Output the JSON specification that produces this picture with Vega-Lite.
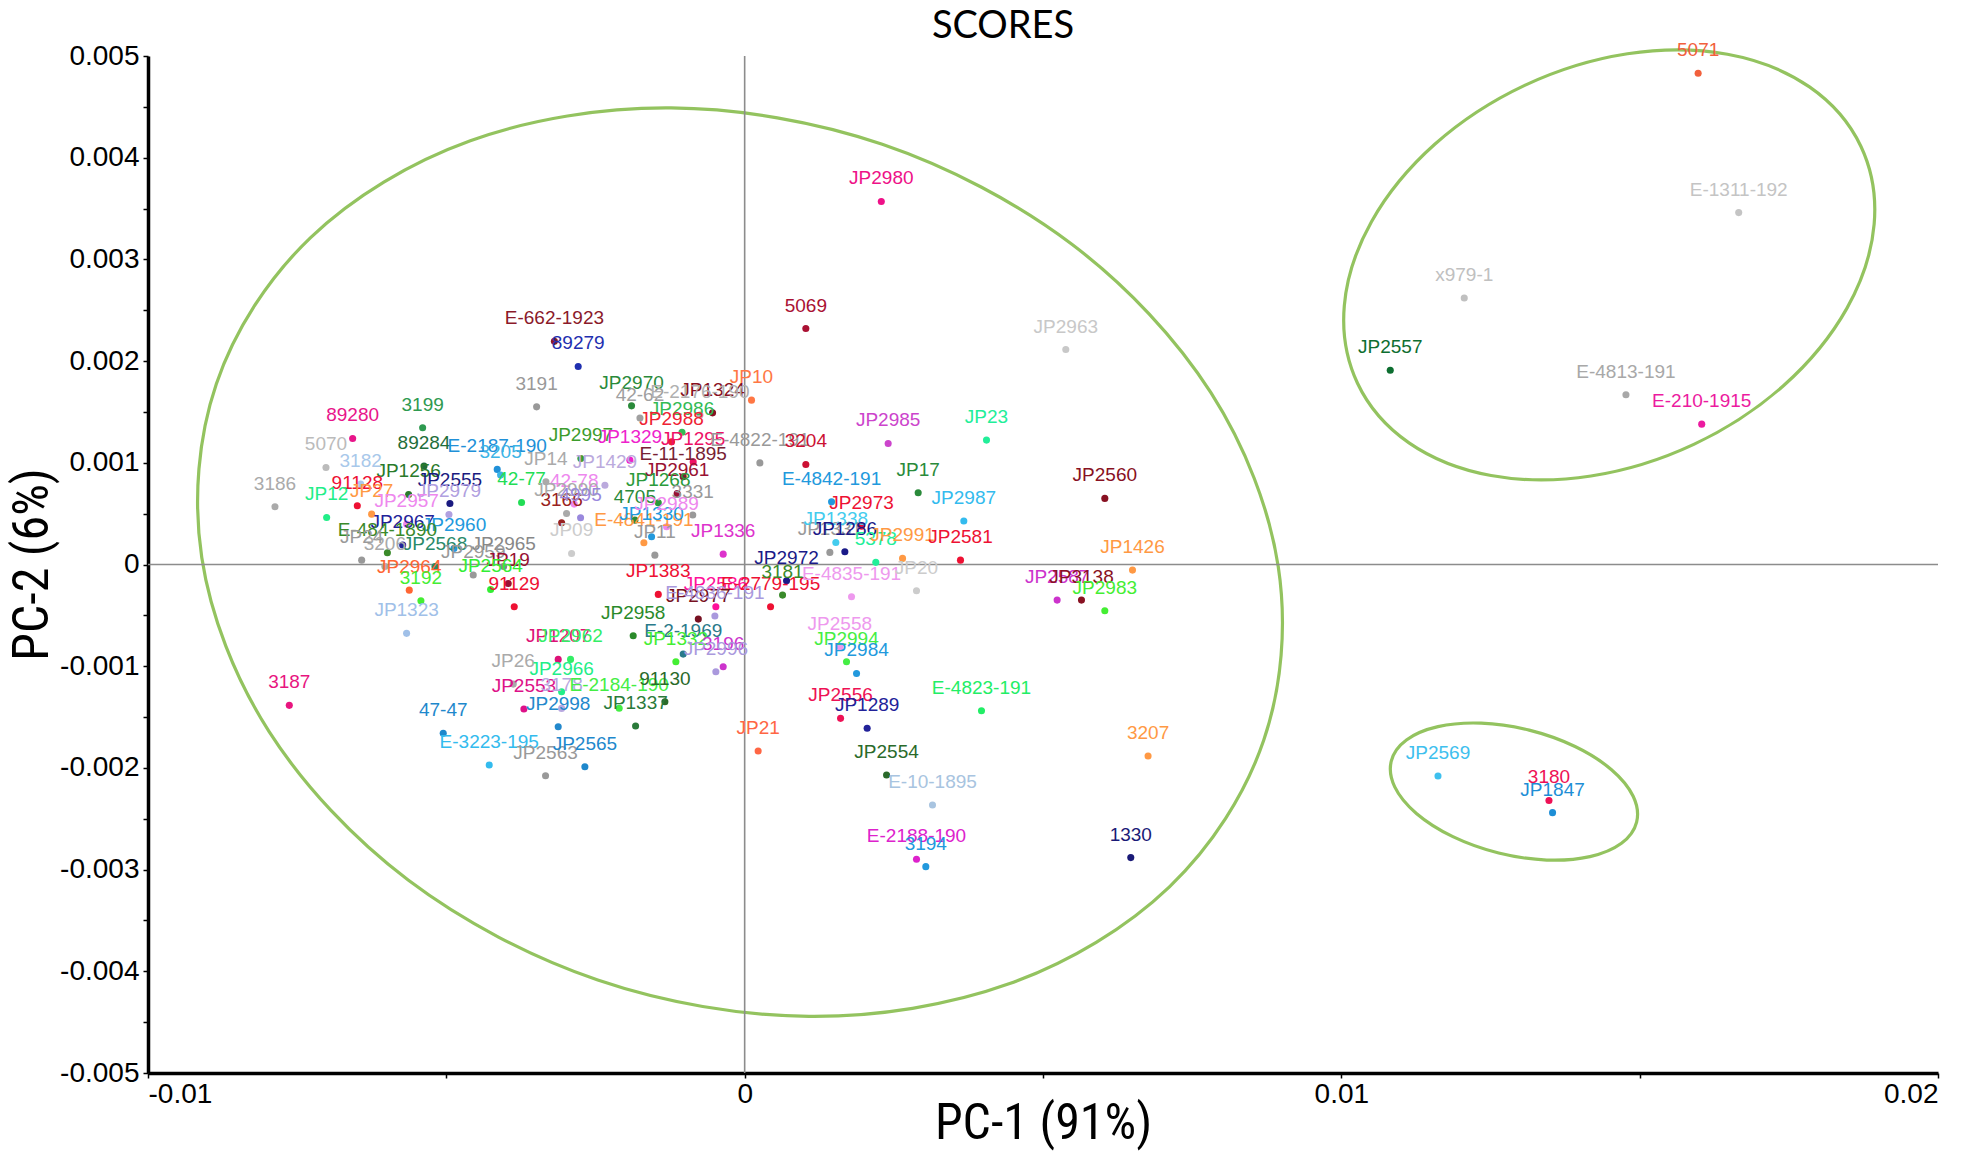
{
  "$schema": "https://vega.github.io/schema/vega-lite/v6.json",
  "width": 1790,
  "height": 1017,
  "autosize": {"type": "none"},
  "padding": {"left": 148, "top": 56, "right": 29, "bottom": 78},
  "background": "white",
  "title": {"text": "SCORES", "font": "Lato", "fontSize": 38, "fontWeight": "normal", "color": "#000000", "anchor": "middle", "dx": -40, "offset": -5},
  "datasets": {
    "pts": [
      {"n":"5071","x":0.01598,"y":0.00483},
      {"n":"E-1311-192","x":0.01666,"y":0.00346},
      {"n":"x979-1","x":0.01206,"y":0.00262},
      {"n":"JP2557","x":0.01082,"y":0.00191},
      {"n":"E-4813-191","x":0.01477,"y":0.00167},
      {"n":"E-210-1915","x":0.01604,"y":0.00138},
      {"n":"JP2569","x":0.01162,"y":-0.00208},
      {"n":"3180","x":0.01348,"y":-0.00232},
      {"n":"JP1847","x":0.01354,"y":-0.00244},
      {"n":"JP2980","x":0.00229,"y":0.00357},
      {"n":"5069","x":0.001025,"y":0.00232},
      {"n":"JP2963","x":0.005382,"y":0.002114},
      {"n":"E-662-1923","x":-0.003189,"y":0.002194},
      {"n":"89279","x":-0.00279,"y":0.001947},
      {"n":"3191","x":-0.003487,"y":0.00155},
      {"n":"JP2970","x":-0.001896,"y":0.00156},
      {"n":"JP10","x":0.000115,"y":0.001616},
      {"n":"JP1324","x":-0.000538,"y":0.001491},
      {"n":"42-62","x":-0.001755,"y":0.00144},
      {"n":"E-2176-190","x":-0.00075,"y":0.00147},
      {"n":"JP2986","x":-0.00105,"y":0.0013},
      {"n":"JP2988","x":-0.001225,"y":0.001206},
      {"n":"3199","x":-0.005397,"y":0.001344},
      {"n":"89280","x":-0.00657,"y":0.001239},
      {"n":"89284","x":-0.005374,"y":0.000969},
      {"n":"E-2187-190","x":-0.004147,"y":0.000935},
      {"n":"3205","x":-0.004091,"y":0.000879},
      {"n":"5070","x":-0.007017,"y":0.000954},
      {"n":"JP1256","x":-0.005632,"y":0.000689},
      {"n":"JP2997","x":-0.002745,"y":0.001043},
      {"n":"JP1329","x":-0.001924,"y":0.001026},
      {"n":"JP1295","x":-0.000863,"y":0.001009},
      {"n":"E-11-1895","x":-0.00103,"y":0.000862},
      {"n":"JP1429","x":-0.002342,"y":0.00078},
      {"n":"JP2961","x":-0.001131,"y":0.000699},
      {"n":"3182","x":-0.006436,"y":0.00079},
      {"n":"JP2555","x":-0.00494,"y":0.0006},
      {"n":"JP14","x":-0.003331,"y":0.000813},
      {"n":"91128","x":-0.006492,"y":0.000577},
      {"n":"JP27","x":-0.006252,"y":0.000495},
      {"n":"JP2979","x":-0.004956,"y":0.000492},
      {"n":"42-77","x":-0.003739,"y":0.00061},
      {"n":"42-78","x":-0.002857,"y":0.000594},
      {"n":"3166","x":-0.003068,"y":0.00041},
      {"n":"JP2990","x":-0.002985,"y":0.000502},
      {"n":"4995","x":-0.00275,"y":0.000459},
      {"n":"4705","x":-0.00184,"y":0.000436},
      {"n":"JP1268","x":-0.001448,"y":0.000606},
      {"n":"3331","x":-0.00087,"y":0.000486},
      {"n":"3186","x":-0.007872,"y":0.000567},
      {"n":"JP12","x":-0.007006,"y":0.000463},
      {"n":"JP2957","x":-0.005665,"y":0.000397},
      {"n":"E-4841-191","x":-0.001689,"y":0.000213},
      {"n":"JP1330","x":-0.00156,"y":0.000272},
      {"n":"JP11","x":-0.001505,"y":0.000092},
      {"n":"JP2967","x":-0.005732,"y":0.000191},
      {"n":"JP2960","x":-0.004872,"y":0.000158},
      {"n":"E-484-1890","x":-0.005988,"y":0.000115},
      {"n":"JP24","x":-0.006419,"y":0.000043},
      {"n":"JP2568","x":-0.00519,"y":-0.00002},
      {"n":"JP2965","x":-0.00404,"y":-0.00002},
      {"n":"JP2959","x":-0.004549,"y":-0.000104},
      {"n":"JP09","x":-0.002901,"y":0.000109},
      {"n":"JP1336","x":-0.00036,"y":0.000102},
      {"n":"3206","x":-0.00603,"y":-0.00002},
      {"n":"JP19","x":-0.003963,"y":-0.000186},
      {"n":"JP2964","x":-0.005621,"y":-0.000252},
      {"n":"JP2564","x":-0.004258,"y":-0.000245},
      {"n":"91129","x":-0.003862,"y":-0.000415},
      {"n":"3192","x":-0.005426,"y":-0.000357},
      {"n":"JP1383","x":-0.001448,"y":-0.000294},
      {"n":"JP2586","x":-0.000483,"y":-0.000416},
      {"n":"E-2779-195","x":0.000434,"y":-0.000416},
      {"n":"JP2972","x":0.000702,"y":-0.00016},
      {"n":"3181","x":0.000635,"y":-0.000301},
      {"n":"E-4835-191","x":0.001791,"y":-0.000317},
      {"n":"JP20","x":0.00288,"y":-0.000258},
      {"n":"JP2977","x":-0.000777,"y":-0.000537},
      {"n":"E-4836-191","x":-0.000499,"y":-0.000507},
      {"n":"JP2958","x":-0.001868,"y":-0.000701},
      {"n":"E-2-1969","x":-0.00103,"y":-0.000881},
      {"n":"JP1332","x":-0.001153,"y":-0.000956},
      {"n":"3196","x":-0.00036,"y":-0.001006},
      {"n":"JP2996","x":-0.000483,"y":-0.001055},
      {"n":"JP1323","x":-0.005666,"y":-0.000677},
      {"n":"JP1207","x":-0.003125,"y":-0.000933},
      {"n":"JP2962","x":-0.002918,"y":-0.000933},
      {"n":"JP26","x":-0.003878,"y":-0.001176},
      {"n":"JP2966","x":-0.003068,"y":-0.001251},
      {"n":"JP2553","x":-0.0037,"y":-0.001421},
      {"n":"3178","x":-0.003068,"y":-0.001415},
      {"n":"E-2184-190","x":-0.002103,"y":-0.001414},
      {"n":"JP2998","x":-0.003125,"y":-0.001595},
      {"n":"JP1337","x":-0.001828,"y":-0.001588},
      {"n":"91130","x":-0.001337,"y":-0.00135},
      {"n":"3187","x":-0.007632,"y":-0.001385},
      {"n":"47-47","x":-0.005052,"y":-0.00166},
      {"n":"E-3223-195","x":-0.004281,"y":-0.001972},
      {"n":"JP2563","x":-0.003337,"y":-0.002077},
      {"n":"JP2565","x":-0.002678,"y":-0.001988},
      {"n":"JP21","x":0.000226,"y":-0.001834},
      {"n":"E-4822-191","x":0.000255,"y":0.000999},
      {"n":"3204","x":0.001025,"y":0.000984},
      {"n":"JP2985","x":0.002405,"y":0.00119},
      {"n":"JP23","x":0.004053,"y":0.001223},
      {"n":"JP17","x":0.002908,"y":0.000705},
      {"n":"E-4842-191","x":0.001456,"y":0.000616},
      {"n":"JP2973","x":0.001959,"y":0.000377},
      {"n":"JP1331","x":0.001428,"y":0.000119},
      {"n":"JP2987","x":0.003673,"y":0.000427},
      {"n":"JP1338","x":0.001528,"y":0.000217},
      {"n":"JP1286","x":0.001679,"y":0.000125},
      {"n":"5378","x":0.002198,"y":0.000021},
      {"n":"JP2991","x":0.002646,"y":0.00006},
      {"n":"JP2581","x":0.003617,"y":0.000043},
      {"n":"JP2560","x":0.006036,"y":0.00065},
      {"n":"JP1426","x":0.0065,"y":-0.000055},
      {"n":"JP2587","x":0.005237,"y":-0.00035},
      {"n":"JP3138","x":0.005645,"y":-0.00035},
      {"n":"JP2983","x":0.006036,"y":-0.000455},
      {"n":"JP2558","x":0.001595,"y":-0.000809},
      {"n":"JP2994","x":0.001707,"y":-0.000956},
      {"n":"JP2984","x":0.001875,"y":-0.001071},
      {"n":"JP2556","x":0.001607,"y":-0.001513},
      {"n":"JP1289","x":0.002053,"y":-0.001611},
      {"n":"E-4823-191","x":0.003969,"y":-0.001438},
      {"n":"JP2554","x":0.002378,"y":-0.00207},
      {"n":"3207","x":0.006761,"y":-0.001883},
      {"n":"E-10-1895","x":0.003148,"y":-0.002365},
      {"n":"E-2188-190","x":0.00288,"y":-0.002899},
      {"n":"3194","x":0.003036,"y":-0.002971},
      {"n":"1330","x":0.006471,"y":-0.002882},
      {"n":"JP2989","x":-0.001309,"y":0.000371}
    ],
    "ell": [
      {"e":"A","k":0,"x":0.008699,"y":-0.001729},
      {"e":"A","k":1,"x":0.007119,"y":-0.003169},
      {"e":"A","k":2,"x":0.004442,"y":-0.004121},
      {"e":"A","k":3,"x":0.001078,"y":-0.004443},
      {"e":"A","k":4,"x":-0.002462,"y":-0.004086},
      {"e":"A","k":5,"x":-0.00564,"y":-0.003103},
      {"e":"A","k":6,"x":-0.00797,"y":-0.001643},
      {"e":"A","k":7,"x":-0.009099,"y":0.000069},
      {"e":"A","k":8,"x":-0.008855,"y":0.001775},
      {"e":"A","k":9,"x":-0.007275,"y":0.003215},
      {"e":"A","k":10,"x":-0.004598,"y":0.004167},
      {"e":"A","k":11,"x":-0.001234,"y":0.004489},
      {"e":"A","k":12,"x":0.002306,"y":0.004132},
      {"e":"A","k":13,"x":0.005484,"y":0.003149},
      {"e":"A","k":14,"x":0.007814,"y":0.001689},
      {"e":"A","k":15,"x":0.008943,"y":-0.000023},
      {"e":"B","k":0,"x":0.018709,"y":0.00411},
      {"e":"B","k":1,"x":0.01893,"y":0.003346},
      {"e":"B","k":2,"x":0.018475,"y":0.002521},
      {"e":"B","k":3,"x":0.017414,"y":0.00176},
      {"e":"B","k":4,"x":0.015907,"y":0.001181},
      {"e":"B","k":5,"x":0.014184,"y":0.00087},
      {"e":"B","k":6,"x":0.012509,"y":0.000875},
      {"e":"B","k":7,"x":0.011134,"y":0.001196},
      {"e":"B","k":8,"x":0.010271,"y":0.001782},
      {"e":"B","k":9,"x":0.01005,"y":0.002546},
      {"e":"B","k":10,"x":0.010505,"y":0.003371},
      {"e":"B","k":11,"x":0.011566,"y":0.004132},
      {"e":"B","k":12,"x":0.013073,"y":0.004711},
      {"e":"B","k":13,"x":0.014796,"y":0.005022},
      {"e":"B","k":14,"x":0.016471,"y":0.005017},
      {"e":"B","k":15,"x":0.017846,"y":0.004696},
      {"e":"C","k":0,"x":0.014949,"y":-0.002533},
      {"e":"C","k":1,"x":0.014695,"y":-0.002741},
      {"e":"C","k":2,"x":0.014166,"y":-0.002872},
      {"e":"C","k":3,"x":0.013443,"y":-0.002906},
      {"e":"C","k":4,"x":0.012637,"y":-0.002837},
      {"e":"C","k":5,"x":0.011869,"y":-0.002676},
      {"e":"C","k":6,"x":0.011258,"y":-0.002448},
      {"e":"C","k":7,"x":0.010895,"y":-0.002187},
      {"e":"C","k":8,"x":0.010837,"y":-0.001933},
      {"e":"C","k":9,"x":0.011091,"y":-0.001725},
      {"e":"C","k":10,"x":0.01162,"y":-0.001594},
      {"e":"C","k":11,"x":0.012343,"y":-0.00156},
      {"e":"C","k":12,"x":0.013149,"y":-0.001629},
      {"e":"C","k":13,"x":0.013917,"y":-0.00179},
      {"e":"C","k":14,"x":0.014528,"y":-0.002018},
      {"e":"C","k":15,"x":0.014891,"y":-0.002279}
    ],
    "zero": [
      {"x":0,"y":-0.005,"x2":0,"y2":0.005},
      {"x":-0.01,"y":0,"x2":0.02,"y2":0}
    ]
  },
  "encoding": {
    "x": {
      "field": "x", "type": "quantitative",
      "scale": {"domain": [-0.01, 0.02], "nice": false, "zero": false},
      "axis": {
        "title": "PC-1 (91%)",
        "values": [-0.01, -0.005, 0, 0.005, 0.01, 0.015, 0.02],
        "labelExpr": "datum.value == -0.01 ? '-0.01' : datum.value == 0 ? '0' : datum.value == 0.01 ? '0.01' : datum.value == 0.02 ? '0.02' : ''",
        "tickSize": 5, "tickWidth": 1.5, "domainWidth": 3.5,
        "labelFontSize": 28, "labelPadding": 2,
        "titleFontSize": 50, "titleBaseline": "middle", "titleY": 50
      }
    },
    "y": {
      "field": "y", "type": "quantitative",
      "scale": {"domain": [-0.005, 0.005], "nice": false, "zero": false},
      "axis": {
        "title": "PC-2 (6%)",
        "values": [-0.005, -0.0045, -0.004, -0.0035, -0.003, -0.0025, -0.002, -0.0015, -0.001, -0.0005, 0, 0.0005, 0.001, 0.0015, 0.002, 0.0025, 0.003, 0.0035, 0.004, 0.0045, 0.005],
        "labelExpr": "round(datum.value*10000) % 10 != 0 ? '' : (datum.value == 0 ? '0' : replace(format(datum.value, '.3f'), '−', '-'))",
        "tickSize": 5, "tickWidth": 1.5, "domainWidth": 3.5,
        "labelFontSize": 28, "labelPadding": 4,
        "titleFontSize": 50, "titleAngle": -90, "titleBaseline": "middle", "titleAlign": "center",
        "titleX": -116, "titleY": 508
      }
    }
  },
  "layer": [
    {
      "data": {"name": "ell"},
      "mark": {"type": "line", "interpolate": "cardinal-closed", "stroke": "#93c35f", "strokeWidth": 3.2, "clip": false},
      "encoding": {
        "detail": {"field": "e", "type": "nominal"},
        "order": {"field": "k", "type": "quantitative"}
      }
    },
    {
      "data": {"name": "zero"},
      "mark": {"type": "rule", "color": "#8c8c8c", "strokeWidth": 1.6},
      "encoding": {
        "x2": {"field": "x2"},
        "y2": {"field": "y2"}
      }
    },
    {
      "data": {"name": "pts"},
      "encoding": {
        "color": {
          "field": "n", "type": "nominal", "legend": null,
          "scale": {
            "domain": ["5071","E-1311-192","x979-1","JP2557","E-4813-191","E-210-1915","JP2569","3180","JP1847","JP2980","5069","JP2963","E-662-1923","89279","3191","JP2970","JP10","JP1324","42-62","E-2176-190","JP2986","JP2988","3199","89280","89284","E-2187-190","3205","5070","JP1256","JP2997","JP1329","JP1295","E-11-1895","JP1429","JP2961","3182","JP2555","JP14","91128","JP27","JP2979","42-77","42-78","3166","JP2990","4995","4705","JP1268","3331","3186","JP12","JP2957","E-4841-191","JP1330","JP11","JP2967","JP2960","E-484-1890","JP24","JP2568","JP2965","JP2959","JP09","JP1336","3206","JP19","JP2964","JP2564","91129","3192","JP1383","JP2586","E-2779-195","JP2972","3181","E-4835-191","JP20","JP2977","E-4836-191","JP2958","E-2-1969","JP1332","3196","JP2996","JP1323","JP1207","JP2962","JP26","JP2966","JP2553","3178","E-2184-190","JP2998","JP1337","91130","3187","47-47","E-3223-195","JP2563","JP2565","JP21","E-4822-191","3204","JP2985","JP23","JP17","E-4842-191","JP2973","JP1331","JP2987","JP1338","JP1286","5378","JP2991","JP2581","JP2560","JP1426","JP2587","JP3138","JP2983","JP2558","JP2994","JP2984","JP2556","JP1289","E-4823-191","JP2554","3207","E-10-1895","E-2188-190","3194","1330","JP2989"],
            "range": ["#f2603c","#c4c4c4","#c0c0c0","#0d6e30","#a8a8a8","#ec1ba0","#3ec0ee","#ee1155","#1e8ed6","#ee1188","#aa1133","#c8c8c8","#8b1a2a","#1f2fb0","#999999","#2a8a3a","#ff7744","#881122","#a0a0a0","#b0b0b0","#33bb55","#ee2233","#2e9a50","#e8158a","#1f6e3a","#2090d8","#3cb4e6","#bbbbbb","#2a7a2a","#3c9c2c","#ee22cc","#ee1166","#772233","#bbaadd","#991133","#a8c8ea","#1a1a80","#aaaaaa","#ee1133","#ff9944","#b0a0e0","#22dd55","#ee88ee","#992222","#aaaaaa","#9988dd","#2a8a3a","#2a9a3a","#999999","#aaaaaa","#22ee88","#ee88ee","#ff9944","#2299dd","#999999","#222299","#2299dd","#3a8a2a","#999999","#2a8a6a","#888888","#999999","#cccccc","#dd33cc","#aaaaaa","#991133","#ff6633","#33ee33","#ee1133","#44ee33","#ee1133","#ff1199","#ee1133","#1a1a88","#3a8a2a","#ee99ee","#cccccc","#771122","#aa99dd","#2a8a2a","#2a7a8a","#44ee33","#cc33cc","#aa99dd","#a0c0e8","#dd1177","#33ee66","#aaaaaa","#22ee88","#dd1188","#b8a8e0","#44ee44","#2288cc","#2a7a3a","#2a6a2a","#e8157f","#1e88cc","#33bbee","#999999","#1e88cc","#ff6644","#999999","#cc1133","#cc44cc","#22ee99","#2a8a3a","#2299dd","#ee1133","#999999","#33bbee","#44ccee","#1a1a88","#22ee99","#ff9944","#ee1133","#881122","#ff9944","#cc33cc","#881122","#44ee33","#ee99ee","#44ee44","#2299dd","#ee1155","#222299","#22ee66","#2a6a2a","#ff9944","#a8c4e0","#dd22cc","#2299dd","#1a1a77","#ee88ee"]
          }
        }
      },
      "layer": [
        {"mark": {"type": "circle", "size": 50, "opacity": 1}},
        {"mark": {"type": "text", "dy": -23, "fontSize": 19, "font": "Liberation Sans", "baseline": "middle", "align": "center"},
         "encoding": {"text": {"field": "n", "type": "nominal"}}}
      ]
    }
  ],
  "config": {
    "view": {"stroke": null},
    "axis": {
      "grid": false,
      "domainColor": "#000000", "tickColor": "#000000",
      "labelColor": "#000000", "titleColor": "#000000",
      "labelFont": "Liberation Sans",
      "titleFont": "Liberation Sans Narrow, Roboto Condensed, Arial Narrow, Liberation Sans",
      "titleFontWeight": "normal"
    }
  }
}
